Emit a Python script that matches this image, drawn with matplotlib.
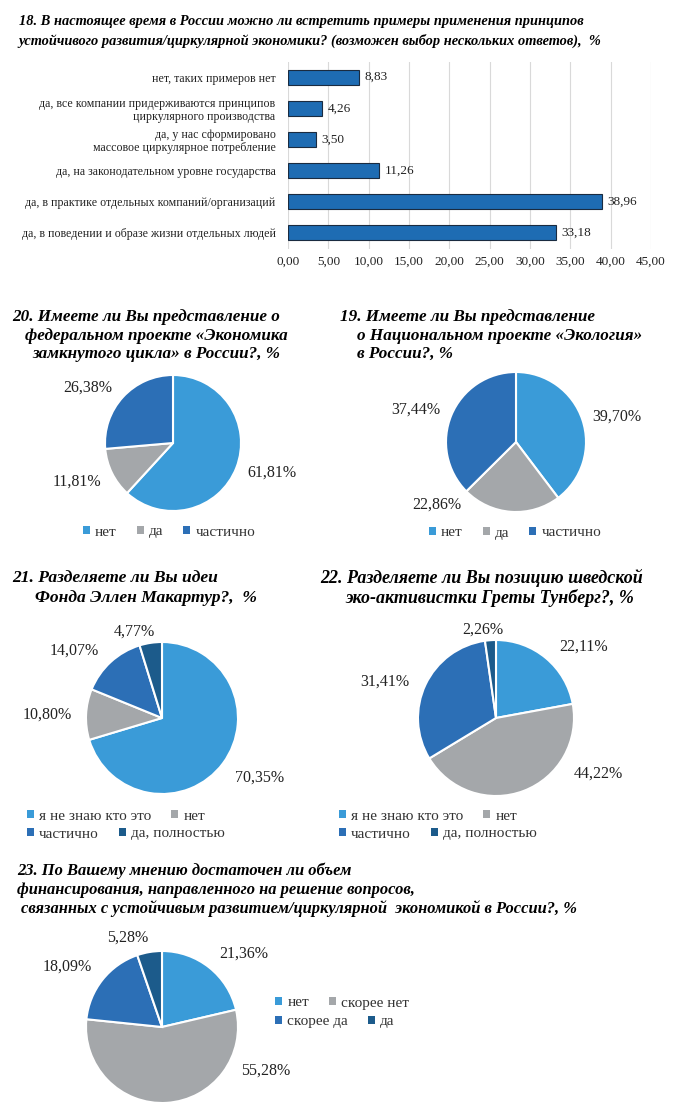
import matplotlib
matplotlib.use("Agg")
import matplotlib.pyplot as plt
from matplotlib.patches import Patch

# Data.
q18_labels = ["нет, таких примеров нет",
              "да, все компании придерживаются принципов\nциркулярного производства",
              "да, у нас сформировано\nмассовое циркулярное потребление",
              "да, на законодательном уровне государства",
              "да, в практике отдельных компаний/организаций",
              "да, в поведении и образе жизни отдельных людей"]
q18_values = [8.83, 4.26, 3.50, 11.26, 38.96, 33.18]
q18_ticks = [0, 5, 10, 15, 20, 25, 30, 35, 40, 45]

q20_labels = ["нет", "да", "частично"]
q20_values = [61.81, 11.81, 26.38]

q19_labels = ["нет", "да", "частично"]
q19_values = [39.70, 22.86, 37.44]

q21_labels = ["я не знаю кто это", "нет", "частично", "да, полностью"]
q21_values = [70.35, 10.80, 14.07, 4.77]

q22_labels = ["я не знаю кто это", "нет", "частично", "да, полностью"]
q22_values = [22.11, 44.22, 31.41, 2.26]

q23_labels = ["нет", "скорее нет", "скорее да", "да"]
q23_values = [21.36, 55.28, 18.09, 5.28]

W, H = 680, 1115
PIE_COLORS = ["#3A9BD8", "#A4A7AA", "#2C6FB6", "#1C5B8B"]
BAR_COLOR = "#1E6CB3"

plt.rcParams["font.family"] = ["Liberation Serif", "DejaVu Serif"]


def box(x, y, w, h):
    # pixel box (top-left origin) -> figure fraction
    return [x / W, 1 - (y + h) / H, w / W, h / H]


def fpos(x, y):
    return (x / W, 1 - y / H)


def comma(v):
    return f"{v:.2f}".replace(".", ",")


def title_lines(lines, size):
    for text, x, y in lines:
        fig.text(*fpos(x, y), text, ha="left", va="center", fontsize=size,
                 fontweight="bold", fontstyle="italic")


def draw_pie(values, cx, cy, r, offsets):
    ax = fig.add_axes(box(cx - r, cy - r, 2 * r, 2 * r))
    ax.pie(values, colors=PIE_COLORS[:len(values)], startangle=90, counterclock=False,
           radius=1, wedgeprops=dict(edgecolor="white", linewidth=1.5))
    ax.set_xlim(-1, 1)
    ax.set_ylim(-1, 1)
    ax.axis("off")
    for v, (dx, dy) in zip(values, offsets):
        ax.text(dx, dy, comma(v) + "%", ha="center", va="center", fontsize=11.5,
                color="#222222")


def legend_row(labels, colors, x, y, loc="center left"):
    handles = [Patch(facecolor=c, edgecolor="none") for c in colors]
    lg = fig.legend(handles, labels, loc=loc, bbox_to_anchor=fpos(x, y), ncol=len(labels),
                    frameon=False, fontsize=11, handlelength=0.45, handleheight=0.45,
                    handletextpad=0.35, columnspacing=1.3, borderpad=0, borderaxespad=0)
    for t in lg.get_texts():
        t.set_color("#333333")


fig = plt.figure(figsize=(W / 100, H / 100), dpi=100)

# ---- 18: horizontal bars
title_lines([("18. В настоящее время в России можно ли встретить примеры применения принципов", 19, 22),
             ("устойчивого развития/циркулярной экономики? (возможен выбор нескольких ответов),  %", 18, 41)],
            10.4)
ax = fig.add_axes(box(288, 61.5, 363, 187))
ypos = range(len(q18_values))
bars = ax.barh(ypos, q18_values, height=0.48, color=BAR_COLOR, edgecolor="#1A2B40", linewidth=0.8)
ax.bar_label(bars, labels=[comma(v) for v in q18_values], padding=4, fontsize=9.5, color="#222222")
ax.set_xlim(0, 45)
ax.set_ylim(len(q18_values) - 0.5, -0.5)
ax.set_xticks(q18_ticks)
ax.set_xticklabels([comma(t) for t in q18_ticks], fontsize=9.5, color="#222222")
ax.set_yticks(list(ypos))
ax.set_yticklabels(q18_labels, fontsize=8.6, color="#222222", linespacing=1.15)
ax.tick_params(length=0)
ax.tick_params(axis="y", pad=9)
ax.tick_params(axis="x", pad=5)
ax.xaxis.grid(True, color="#D9D9D9", linewidth=0.8)
ax.set_axisbelow(True)
for s in ax.spines.values():
    s.set_visible(False)

# ---- 20
title_lines([("20. Имеете ли Вы представление о", 12, 317),
             ("федеральном проекте «Экономика", 25, 336),
             ("замкнутого цикла» в России?, %", 32, 354)], 12.3)
draw_pie(q20_values, 173, 443, 68, [(1.46, -0.44), (-1.41, -0.57), (-1.25, 0.81)])
legend_row(q20_labels, PIE_COLORS[:3], 169, 532, loc="center")

# ---- 19
title_lines([("19. Имеете ли Вы представление", 340, 317),
             ("о Национальном проекте «Экология»", 357, 336),
             ("в России?, %", 357, 354)], 12.3)
draw_pie(q19_values, 516, 442, 70, [(1.44, 0.36), (-1.13, -0.9), (-1.43, 0.46)])
legend_row(q19_labels, PIE_COLORS[:3], 515, 533, loc="center")

# ---- 21
title_lines([("21. Разделяете ли Вы идеи", 12, 578),
             ("Фонда Эллен Макартур?,  %", 35, 598)], 12.6)
draw_pie(q21_values, 162, 718, 76, [(1.29, -0.78), (-1.51, 0.04), (-1.16, 0.89), (-0.36, 1.14)])
legend_row(q21_labels[:2], PIE_COLORS[:2], 27, 816)
legend_row(q21_labels[2:], PIE_COLORS[2:], 27, 834)

# ---- 22
title_lines([("22. Разделяете ли Вы позицию шведской", 320, 578),
             ("эко-активистки Греты Тунберг?, %", 345, 598)], 13)
draw_pie(q22_values, 496, 718, 78, [(1.12, 0.91), (1.31, -0.71), (-1.42, 0.46), (-0.17, 1.13)])
legend_row(q22_labels[:2], PIE_COLORS[:2], 339, 816)
legend_row(q22_labels[2:], PIE_COLORS[2:], 339, 834)

# ---- 23
title_lines([("23. По Вашему мнению достаточен ли объем", 17, 871),
             ("финансирования, направленного на решение вопросов,", 17, 890),
             ("связанных с устойчивым развитием/циркулярной  экономикой в России?, %", 21, 909)],
            11.9)
draw_pie(q23_values, 162, 1027, 76, [(1.07, 0.97), (1.36, -0.57), (-1.25, 0.79), (-0.45, 1.18)])
legend_row(q23_labels[:2], PIE_COLORS[:2], 275, 1003)
legend_row(q23_labels[2:], PIE_COLORS[2:], 275, 1022)

fig.savefig("out.png", dpi=100)
